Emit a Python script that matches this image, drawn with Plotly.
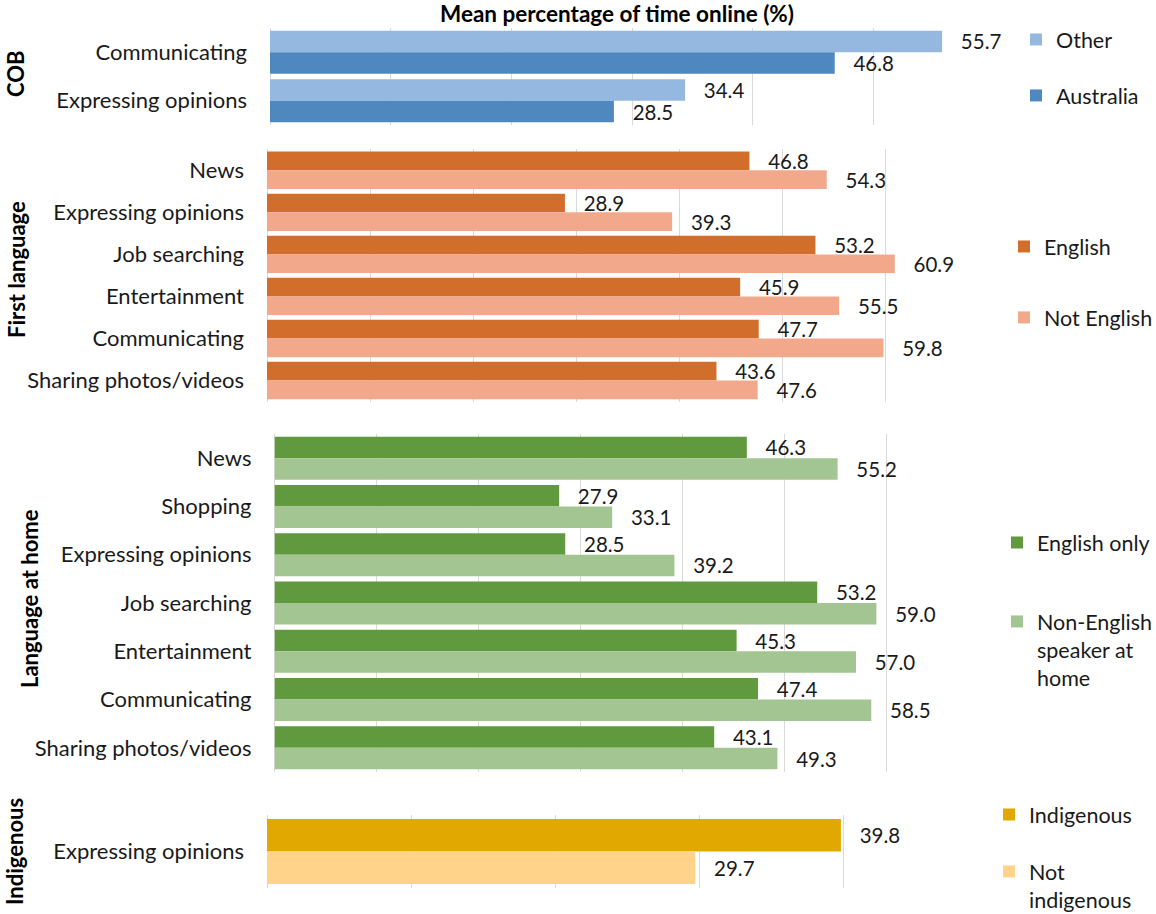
import plotly.graph_objects as go

# ---- data -------------------------------------------------------------
cob_categories = ["Communicating", "Expressing opinions"]
cob_other = [55.7, 34.4]
cob_australia = [46.8, 28.5]

lang_categories = ["News", "Expressing opinions", "Job searching", "Entertainment",
                   "Communicating", "Sharing photos/videos"]
lang_english = [46.8, 28.9, 53.2, 45.9, 47.7, 43.6]
lang_not_english = [54.3, 39.3, 60.9, 55.5, 59.8, 47.6]

home_categories = ["News", "Shopping", "Expressing opinions", "Job searching",
                   "Entertainment", "Communicating", "Sharing photos/videos"]
home_english_only = [46.3, 27.9, 28.5, 53.2, 45.3, 47.4, 43.1]
home_non_english = [55.2, 33.1, 39.2, 59.0, 57.0, 58.5, 49.3]

indig_categories = ["Expressing opinions"]
indig_yes = [39.8]
indig_no = [29.7]

# ---- layout helpers ---------------------------------------------------
W, H = 1156, 914
FONT = "Lato"
TXT = "#1a1a1a"
GRID = "#d9d9d9"


def px_x(a, b):
    return [a / W, b / W]


def px_y(top, bottom):
    return [1 - bottom / H, 1 - top / H]


panels = [
    # (categories, [(name, values, colour)], xmax, xdomain, ydomain, legend, title, title_x, title_y)
    (cob_categories,
     [("Other", cob_other, "#95b8e0"), ("Australia", cob_australia, "#4f88be")],
     60, px_x(270, 994), px_y(28, 125), "legend", "COB", 15, 74),
    (lang_categories,
     [("English", lang_english, "#d26e2c"), ("Not English", lang_not_english, "#f2a98b")],
     70, px_x(267, 988.6), px_y(149.3, 401.5), "legend2", "First language", 16, 270),
    (home_categories,
     [("English only", home_english_only, "#619a3e"),
      ("Non-English<br>speaker at<br>home", home_non_english, "#a3c591")],
     70, px_x(274.5, 988.6), px_y(434, 772), "legend3", "Language at home", 29, 599),
    (indig_categories,
     [("Indigenous", indig_yes, "#e0a800"), ("Not<br>indigenous", indig_no, "#ffd38a")],
     50, px_x(267, 988), px_y(815, 888), "legend4", "Indigenous", 14, 852),
]

fig = go.Figure()
annotations = []
layout_axes = {}

for i, (cats, series, xmax, xdom, ydom, leg, ttl, tx, ty) in enumerate(panels, start=1):
    xa = "x" if i == 1 else f"x{i}"
    ya = "y" if i == 1 else f"y{i}"
    for name, vals, colour in series:
        fig.add_trace(go.Bar(
            y=cats, x=vals, name=name, orientation="h",
            xaxis=xa, yaxis=ya, legend=leg, legendgroup=f"{leg}-{name}",
            marker=dict(color=colour, line=dict(width=0)),
            text=vals, texttemplate="\u00a0\u00a0\u00a0%{x:.1f}",
            textposition="outside", constraintext="none", cliponaxis=False,
            textfont=dict(family=FONT, size=20.5, color=TXT),
            hoverinfo="skip",
        ))
    xkey = "xaxis" if i == 1 else f"xaxis{i}"
    ykey = "yaxis" if i == 1 else f"yaxis{i}"
    layout_axes[xkey] = dict(
        domain=xdom, anchor=ya, range=[0, xmax], dtick=10, tick0=0,
        showgrid=True, gridcolor=GRID, gridwidth=1,
        zeroline=True, zerolinecolor=GRID, zerolinewidth=1,
        showticklabels=False, ticks="", showline=False, fixedrange=True,
    )
    layout_axes[ykey] = dict(
        domain=ydom, anchor=xa, type="category", categoryorder="array",
        categoryarray=cats, range=[len(cats) - 0.5, -0.5],
        showgrid=False, zeroline=False, showline=False, ticks="",
        ticklabelstandoff=22,
        tickfont=dict(family=FONT, size=22, color=TXT), fixedrange=True,
    )
    annotations.append(dict(
        text=f"<b>{ttl}</b>", x=tx / W, y=1 - ty / H, xref="paper", yref="paper",
        xanchor="center", yanchor="middle", textangle=-90, showarrow=False,
        font=dict(family=FONT, size=22, color="#000000"),
    ))

annotations.append(dict(
    text="<b>Mean percentage of time online (%)</b>", x=617 / W, y=1 - 14 / H,
    xref="paper", yref="paper", xanchor="center", yanchor="middle",
    showarrow=False, font=dict(family=FONT, size=22.5, color="#000000"),
))


def legend_box(text_left, top, gap):
    return dict(
        x=(text_left - 40) / W, y=1 - top / H, xanchor="left", yanchor="top",
        xref="paper", yref="paper", traceorder="grouped", tracegroupgap=gap,
        valign="top", bgcolor="rgba(0,0,0,0)", borderwidth=0,
        font=dict(family=FONT, size=21.5, color=TXT),
    )


fig.update_layout(
    width=W, height=H,
    margin=dict(l=0, r=0, t=0, b=0, autoexpand=False),
    paper_bgcolor="white", plot_bgcolor="white",
    barmode="group", bargap=0.11, bargroupgap=0,
    showlegend=True,
    legend=legend_box(1056, 19, 25),
    legend2=legend_box(1044, 226, 40),
    legend3=legend_box(1037, 522, 48),
    legend4=legend_box(1029, 794, 26),
    annotations=annotations,
    **layout_axes,
)

fig.write_html("out.html")
